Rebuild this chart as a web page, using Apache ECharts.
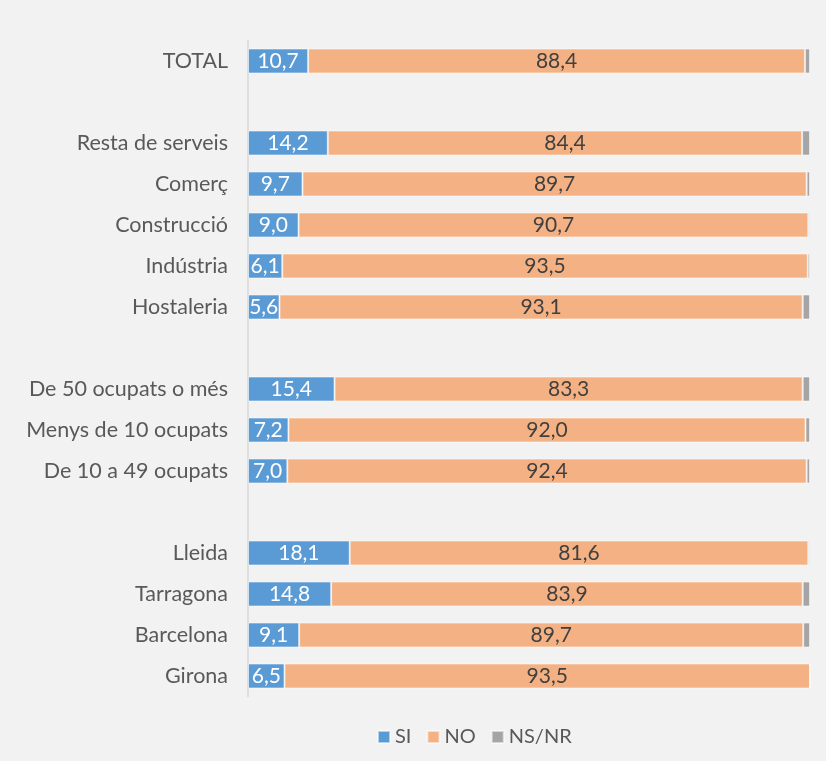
<!DOCTYPE html>
<html><head><meta charset="utf-8">
<script src="https://cdn.jsdelivr.net/npm/echarts@6/dist/echarts.min.js"></script>
<style>html,body{margin:0;padding:0;background:#f2f2f2;}#c{width:826px;height:761px;}</style>
</head><body><div id="c"></div>
<script>
const categories = ['TOTAL',' ','Resta de serveis','Comerç','Construcció','Indústria','Hostaleria','  ','De 50 ocupats o més','Menys de 10 ocupats','De 10 a 49 ocupats','   ','Lleida','Tarragona','Barcelona','Girona'];
const si   = [10.7,null,14.2,9.7,9.0,6.1,5.6,null,15.4,7.2,7.0,null,18.1,14.8,9.1,6.5];
const no   = [88.4,null,84.4,89.7,90.7,93.5,93.1,null,83.3,92.0,92.4,null,81.6,83.9,89.7,93.5];
const nsnr = [0.9,null,1.4,0.6,0.3,0.4,1.3,null,1.3,0.8,0.6,null,0.3,1.3,1.2,0.0];
const seriesNames = ['SI','NO','NS/NR'];

const chart = echarts.init(document.getElementById('c'));
const fmt = p => (p.value == null ? '' : p.value.toFixed(1).replace('.', ','));
const border = {borderColor:'rgba(255,255,255,0.55)', borderWidth:1};
chart.setOption({
  backgroundColor:'#f2f2f2',
  animation:false,
  textStyle:{fontFamily:'Lato'},
  grid:{left:248,right:16,top:40.5,bottom:64.5},
  legend:{top:722,left:372,itemWidth:12,itemHeight:12,itemGap:15,icon:'rect',
    textStyle:{color:'#595959',fontSize:20,fontFamily:'Lato'},data:seriesNames},
  xAxis:{type:'value',min:0,max:100,show:false},
  yAxis:{type:'category',inverse:true,data:categories,
    axisLine:{show:true,lineStyle:{color:'#d9d9d9',width:1.5}},
    axisTick:{show:false},
    axisLabel:{color:'#595959',fontSize:21.5,margin:20,fontFamily:'Lato'}},
  series:[
    {name:'SI',type:'bar',stack:'a',data:si,barWidth:25,itemStyle:Object.assign({color:'#5b9bd5'},border),
      label:{show:true,position:'inside',color:'#ffffff',fontSize:21,formatter:fmt}},
    {name:'NO',type:'bar',stack:'a',data:no,barWidth:25,itemStyle:Object.assign({color:'#f4b183'},border),
      label:{show:true,position:'inside',color:'#404040',fontSize:21,formatter:fmt}},
    {name:'NS/NR',type:'bar',stack:'a',data:nsnr,barWidth:25,itemStyle:Object.assign({color:'#a5a5a5'},border),
      label:{show:false}}
  ]
});
</script></body></html>
